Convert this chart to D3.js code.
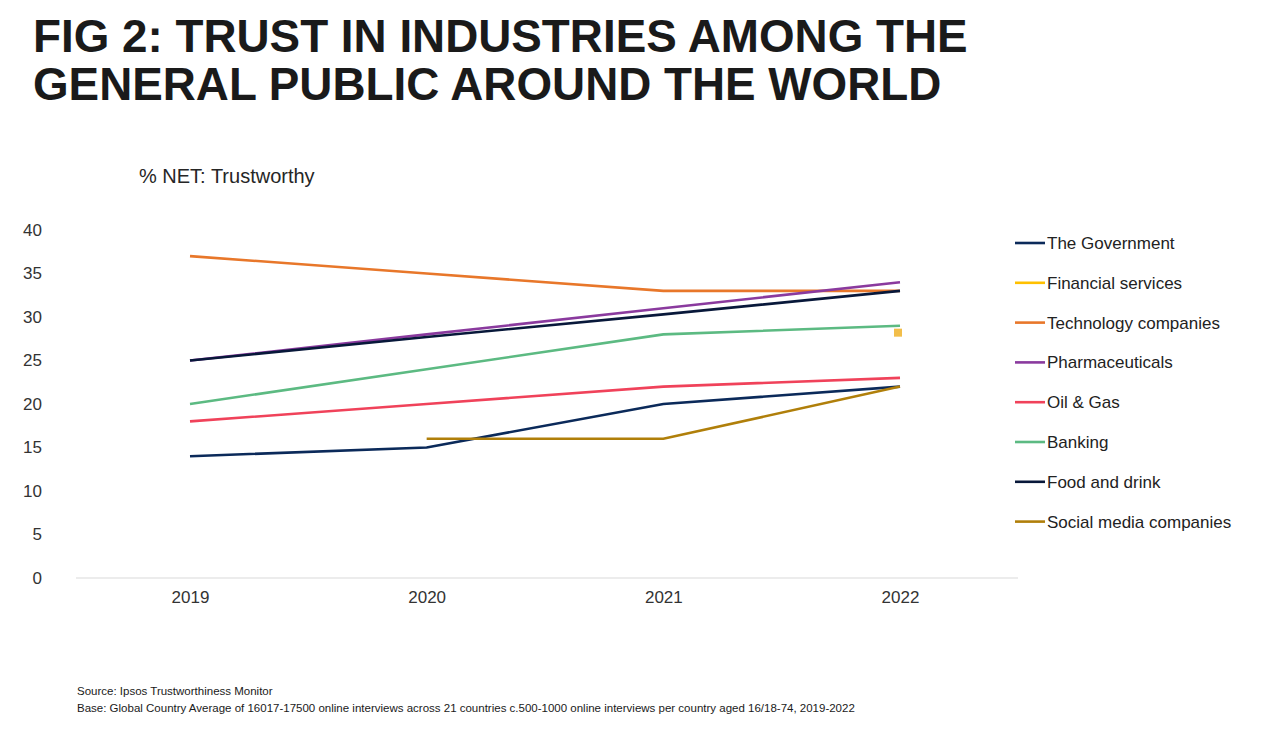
<!DOCTYPE html>
<html><head><meta charset="utf-8">
<script src="https://cdn.jsdelivr.net/npm/d3@7"></script>
<style>
body{margin:0;background:#fff;}
svg{display:block;font-family:"Liberation Sans",Arial,sans-serif;}
</style></head>
<body><svg id="c" width="1288" height="729"></svg>
<script>
const titleLines = ["FIG 2: TRUST IN INDUSTRIES AMONG THE", "GENERAL PUBLIC AROUND THE WORLD"];
const subtitle = "% NET: Trustworthy";
const years = ["2019", "2020", "2021", "2022"];
const yTicks = [0, 5, 10, 15, 20, 25, 30, 35, 40];
const seriesNames = ["The Government", "Financial services", "Technology companies", "Pharmaceuticals", "Oil & Gas", "Banking", "Food and drink", "Social media companies"];
const seriesColors = ["#0b2a5a", "#ffc000", "#e8772a", "#8a3a9e", "#f0425a", "#5cba82", "#08183a", "#b07f0a"];
const government = [14, 15, 20, 22];
const financial = [null, null, null, 28.2];
const technology = [37, 35, 33, 33];
const pharma = [25, 28, 31, 34];
const oilGas = [18, 20, 22, 23];
const banking = [20, 24, 28, 29];
const foodDrink = [25, 27.7, 30.3, 33];
const socialMedia = [null, 16, 16, 22];
const sources = ["Source: Ipsos Trustworthiness Monitor", "Base: Global Country Average of 16017-17500 online interviews across 21 countries c.500-1000 online interviews per country aged 16/18-74, 2019-2022"];

const seriesValues = [government, financial, technology, pharma, oilGas, banking, foodDrink, socialMedia];
const series = seriesNames.map((n, i) => ({name: n, color: seriesColors[i], values: seriesValues[i]}));

const svg = d3.select("#c");
// title
svg.append("g").selectAll("text").data(titleLines).join("text")
  .attr("x", 33).attr("y", (d, i) => 52 + i * 48)
  .attr("font-size", 45.8).attr("font-weight", "bold").attr("fill", "#1a1a1a")
  .text(d => d);
svg.append("text").attr("x", 139).attr("y", 183).attr("font-size", 20).attr("fill", "#262626").text(subtitle);

const x = d3.scalePoint().domain(years).range([190, 900]);
const y = d3.scaleLinear().domain([0, 40]).range([578, 230]);

// axis baseline
svg.append("line").attr("x1", 76).attr("x2", 1018).attr("y1", y(0)).attr("y2", y(0))
  .attr("stroke", "#d9d9d9").attr("stroke-width", 1.2);

const yAxis = svg.append("g").attr("transform", "translate(42,0)")
  .call(d3.axisLeft(y).tickValues(yTicks).tickSize(0).tickPadding(0));
yAxis.select(".domain").remove();
yAxis.selectAll("text").attr("font-size", 17).attr("fill", "#333").attr("font-family", "Liberation Sans, Arial, sans-serif");

const xAxis = svg.append("g").attr("transform", `translate(0,${y(0)})`)
  .call(d3.axisBottom(x).tickSize(0).tickPadding(13));
xAxis.select(".domain").remove();
xAxis.selectAll("text").attr("font-size", 17).attr("fill", "#333").attr("font-family", "Liberation Sans, Arial, sans-serif");

const line = d3.line().defined(d => d[1] != null).x(d => x(d[0])).y(d => y(d[1]));
const order = [2, 5, 4, 3, 6, 0, 7]; // draw order
order.forEach(i => {
  const s = series[i];
  svg.append("path").datum(years.map((yr, j) => [yr, s.values[j]]))
    .attr("d", line).attr("fill", "none").attr("stroke", s.color).attr("stroke-width", 2.6);
});
// Financial services single point
const fin = series[1];
svg.append("g").selectAll("rect").data(years.map((yr, j) => [yr, fin.values[j]]).filter(d => d[1] != null))
  .join("rect").attr("x", d => x(d[0]) - 6).attr("y", d => y(d[1]) - 4).attr("width", 8).attr("height", 8)
  .attr("fill", "#f2be4a");

// legend
const lg = svg.append("g").attr("transform", "translate(1015,243)");
const rows = lg.selectAll("g").data(series).join("g").attr("transform", (d, i) => `translate(0,${i * 39.8})`);
rows.append("line").attr("x1", 0).attr("x2", 30).attr("stroke", d => d.color).attr("stroke-width", 2.6);
rows.append("text").attr("x", 32).attr("y", 6).attr("font-size", 17).attr("fill", "#222").text(d => d.name);

// footer
svg.append("g").selectAll("text").data(sources).join("text")
  .attr("x", 77).attr("y", (d, i) => 695 + i * 17).attr("font-size", 11.5).attr("fill", "#1a1a1a")
  .text(d => d);
</script></body></html>
